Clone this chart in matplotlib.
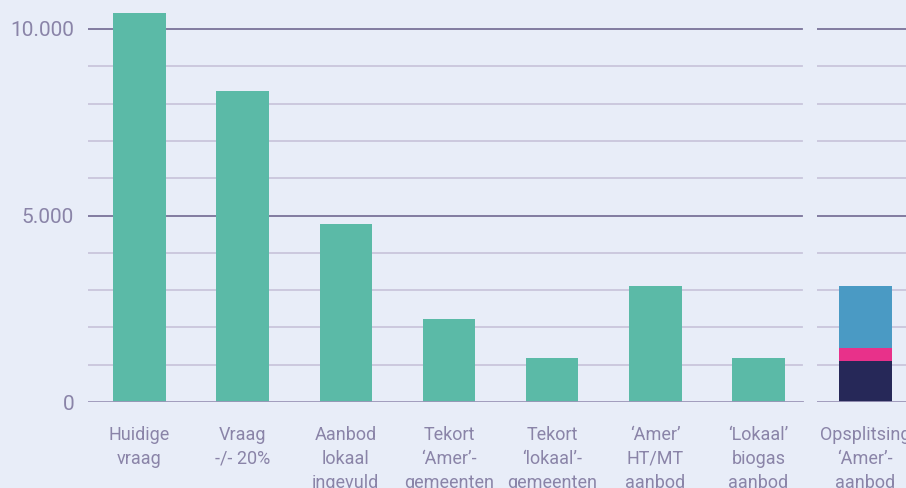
import matplotlib
matplotlib.use("Agg")
import matplotlib.pyplot as plt
from matplotlib.ticker import FuncFormatter

plt.rcParams['font.family'] = ['Roboto', 'DejaVu Sans']

categories = ["Huidige\nvraag", "Vraag\n-/- 20%", "Aanbod\nlokaal\ningevuld",
              "Tekort\n‘Amer’-\ngemeenten", "Tekort\n‘lokaal’-\ngemeenten",
              "‘Amer’\nHT/MT\naanbod", "‘Lokaal’\nbiogas\naanbod"]
values = [10430, 8340, 4770, 2225, 1180, 3110, 1180]

split_label = ["Opsplitsing\n‘Amer’-\naanbod"]
split_parts = [1100, 350, 1660]
split_colors = ["#262858", "#e8318a", "#4a9ac4"]

yticks = [0, 5000, 10000]
grid_minor = [1000, 2000, 3000, 4000, 6000, 7000, 8000, 9000]

BG = "#e8edf8"
TEAL = "#5bbaa7"
TXT = "#8a84a8"
MAJ = "#7a7399"
MIN = "#c9c6dc"

W, H = 906, 488
fig = plt.figure(figsize=(W/100, H/100), dpi=100, facecolor=BG)

ytop = 402/37.3*1000

def style(ax, xmax=1.0):
    ax.set_facecolor("none")
    for s in ax.spines.values():
        s.set_visible(False)
    ax.set_ylim(0, ytop)
    for g in grid_minor:
        ax.axhline(g, xmax=xmax, color=MIN, lw=1.3, zorder=0)
    for g in yticks[1:]:
        ax.axhline(g, xmax=xmax, color=MAJ, lw=1.3, zorder=0)
    ax.axhline(0, xmax=xmax, color="#9b95b8", lw=2, zorder=3)
    ax.tick_params(length=0, colors=TXT, labelsize=13)

L, R = 88, 810
ax = fig.add_axes([L/W, 86/H, (R-L)/W, 402/H])
style(ax, xmax=(802-L)/(R-L))
x = range(len(categories))
ax.bar(x, values, width=0.51, color=TEAL, zorder=2)
ax.set_xlim(-0.5, len(categories)-0.5)
ax.set_xticks(list(x))
ax.set_xticklabels(categories, linespacing=1.45, va='top')
ax.tick_params(axis='x', pad=17)
ax.set_yticks(yticks)
ax.yaxis.set_major_formatter(FuncFormatter(lambda v, p: f"{int(v):,}".replace(",", ".")))
ax.tick_params(axis='y', pad=10, labelsize=15)

ax2 = fig.add_axes([817/W, 86/H, 100/W, 402/H])
style(ax2)
bottom = 0
for v, c in zip(split_parts, split_colors):
    ax2.bar([0], [v], bottom=bottom, width=0.53, color=c, zorder=2)
    bottom += v
ax2.set_xlim(-0.48, 0.52)
ax2.set_xticks([0])
ax2.set_xticklabels(split_label, linespacing=1.45, va='top')
ax2.tick_params(axis='x', pad=17)
ax2.set_yticks([])

fig.savefig("out.png", dpi=100, facecolor=BG)
